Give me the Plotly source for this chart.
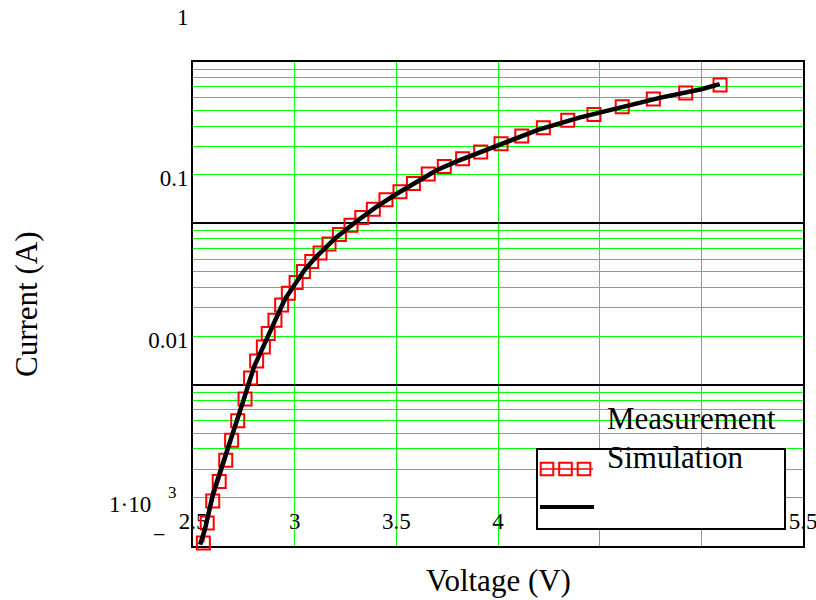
import math
import plotly.graph_objects as go

# Measured diode I-V characteristic
meas_voltage = [2.551, 2.570, 2.597, 2.629, 2.661, 2.690, 2.720, 2.756, 2.783, 2.813,
                2.846, 2.870, 2.903, 2.936, 2.969, 3.007, 3.043, 3.084, 3.125, 3.169,
                3.220, 3.277, 3.330, 3.387, 3.449, 3.518, 3.584, 3.657, 3.736, 3.826,
                3.915, 4.015, 4.117, 4.223, 4.343, 4.472, 4.611, 4.764, 4.923, 5.092]
meas_current = [1.045e-3, 1.39e-3, 1.90e-3, 2.51e-3, 3.40e-3, 4.53e-3, 5.98e-3, 8.14e-3, 1.098e-2, 1.403e-2,
                1.711e-2, 2.075e-2, 2.512e-2, 3.119e-2, 3.69e-2, 4.30e-2, 5.03e-2, 5.81e-2, 6.54e-2, 7.44e-2,
                8.53e-2, 0.0972, 0.1086, 0.1223, 0.140, 0.157, 0.1766, 0.2024, 0.2248, 0.2512,
                0.2766, 0.3119, 0.3483, 0.3908, 0.4355, 0.4732, 0.5284, 0.590, 0.6427, 0.7213]

# Simulated curve
sim_voltage = [2.535, 2.56, 2.60, 2.65, 2.70, 2.75, 2.80, 2.85, 2.90, 2.95, 3.00, 3.05, 3.10,
               3.20, 3.30, 3.40, 3.50, 3.60, 3.70, 3.80, 3.90, 4.00, 4.20, 4.40, 4.60, 4.80,
               5.00, 5.09]
sim_current = [1.02e-3, 1.29e-3, 2.14e-3, 3.28e-3, 5.20e-3, 8.13e-3, 1.29e-2, 1.77e-2, 2.45e-2,
               3.35e-2, 4.17e-2, 5.16e-2, 6.10e-2, 8.09e-2, 0.1019, 0.1259, 0.152, 0.182, 0.214,
               0.243, 0.272, 0.302, 0.381, 0.452, 0.524, 0.601, 0.678, 0.729]

# labelled voltage ticks; 4.5 and 5 sit behind the legend box, so they only get grid lines
x_tickvals = [2.5, 3.0, 3.5, 4.0, 5.5]
x_ticktext = ["2.5", "3", "3.5", "4", "5.5"]
x_gridonly = [4.5, 5.0]
# current ticks; the lowest decade label is written in pieces (mantissa, exponent, minus sign)
y_tickvals = [1e-2, 1e-1, 1]
y_ticktext = ["0.01", "0.1", "1"]
y_low_val = 1e-3
y_low_mantissa = "1\u00b710"
y_low_exponent = "3"
y_low_sign = "\u2212"
y_minor = [m * 10.0 ** e for e in (-3, -2, -1) for m in range(2, 10)]

FONT = "Liberation Serif"
GREEN = "#00ff00"
LABEL_SHIFT = 45  # tick labels ride above their grid lines

W, H = 816, 600
L, R, T, B = 193, 13, 62, 54
PW, PH = W - L - R, H - T - B


def fx(px):
    """pixel column -> paper x"""
    return (px - L) / PW


def fy(py):
    """pixel row -> paper y"""
    return (H - B - py) / PH


fig = go.Figure()

fig.add_trace(go.Scatter(
    x=meas_voltage, y=meas_current, mode="lines+markers", name="Measurement",
    line=dict(color="#ff0000", width=1.5),
    marker=dict(symbol="square-open", size=13, color="#ff0000", line=dict(width=2, color="#ff0000")),
    cliponaxis=False, showlegend=False,
))
fig.add_trace(go.Scatter(
    x=sim_voltage, y=sim_current, mode="lines", name="Simulation",
    line=dict(color="#000000", width=4.5),
    cliponaxis=False, showlegend=False,
))

# legend box with its sample symbols
shapes = [
    dict(type="rect", xref="paper", yref="paper", x0=fx(537), x1=fx(785), y0=fy(529), y1=fy(449),
         fillcolor="white", line=dict(color="black", width=2), layer="above"),
    dict(type="line", xref="paper", yref="paper", x0=fx(540), x1=fx(593), y0=fy(469), y1=fy(469),
         line=dict(color="#ff0000", width=1.5), layer="above"),
    dict(type="line", xref="paper", yref="paper", x0=fx(540), x1=fx(594), y0=fy(507), y1=fy(507),
         line=dict(color="black", width=4), layer="above"),
]
for cx in (547, 565.5, 584):
    shapes.append(dict(type="rect", xref="paper", yref="paper",
                       x0=fx(cx - 6.3), x1=fx(cx + 6.3), y0=fy(469 + 6.3), y1=fy(469 - 6.3),
                       line=dict(color="#ff0000", width=2), layer="above"))

annotations = [
    dict(text="Measurement", x=fx(605), y=fy(418.5), xanchor="left", yanchor="middle"),
    dict(text="Simulation", x=fx(605), y=fy(457.5), xanchor="left", yanchor="middle"),
    dict(text="Voltage (V)", x=fx(498), y=fy(580.5), xanchor="center", yanchor="middle"),
    dict(text="Current (A)", x=fx(26), y=fy(305), xanchor="center", yanchor="middle", textangle=-90),
]
for a in annotations:
    a.update(xref="paper", yref="paper", showarrow=False, font=dict(family=FONT, size=31, color="black"))

tick_font = dict(family=FONT, size=23, color="black")
y_low = math.log10(y_low_val)
annotations += [
    dict(text=y_low_mantissa, x=fx(153), xref="paper", xanchor="right",
         y=y_low, yref="y", yanchor="middle", yshift=LABEL_SHIFT - 3,
         showarrow=False, font=tick_font),
    dict(text=y_low_exponent, x=fx(172), xref="paper", xanchor="center",
         y=y_low, yref="y", yanchor="middle", yshift=LABEL_SHIFT + 9,
         showarrow=False, font=dict(family=FONT, size=17, color="black")),
    dict(text=y_low_sign, x=fx(159), xref="paper", xanchor="center",
         y=y_low, yref="y", yanchor="middle", yshift=12,
         showarrow=False, font=dict(family=FONT, size=22, color="black")),
]

fig.update_layout(
    width=W, height=H, autosize=False,
    margin=dict(l=L, r=R, t=T, b=B, pad=0, autoexpand=False),
    paper_bgcolor="white", plot_bgcolor="white",
    font=dict(family=FONT, size=23, color="black"),
    shapes=shapes, annotations=annotations,
    xaxis=dict(
        range=[2.5, 5.5], tickmode="array", tickvals=x_tickvals, ticktext=x_ticktext,
        showgrid=True, gridcolor=GREEN, gridwidth=1, zeroline=False,
        showline=True, mirror=True, linecolor="black", linewidth=2,
        ticks="", ticklabelposition="inside", ticklabeloverflow="allow",
        ticklabelstandoff=14, layer="below traces", automargin=False,
        tickfont=tick_font,
        minor=dict(tickmode="array", tickvals=x_gridonly, showgrid=True, gridcolor=GREEN, gridwidth=1, ticks=""),
    ),
    yaxis=dict(
        type="log", range=[-3, 0], tickmode="array", tickvals=y_tickvals, ticktext=y_ticktext,
        showgrid=True, gridcolor="black", gridwidth=2, zeroline=False,
        showline=True, mirror=True, linecolor="black", linewidth=2,
        ticks="", ticklabelshift=-LABEL_SHIFT, ticklabelstandoff=-2, layer="below traces", automargin=False,
        tickfont=tick_font,
        minor=dict(tickmode="array", tickvals=y_minor, showgrid=True, gridcolor=GREEN, gridwidth=1, ticks=""),
    ),
)

fig.write_html("out.html")
